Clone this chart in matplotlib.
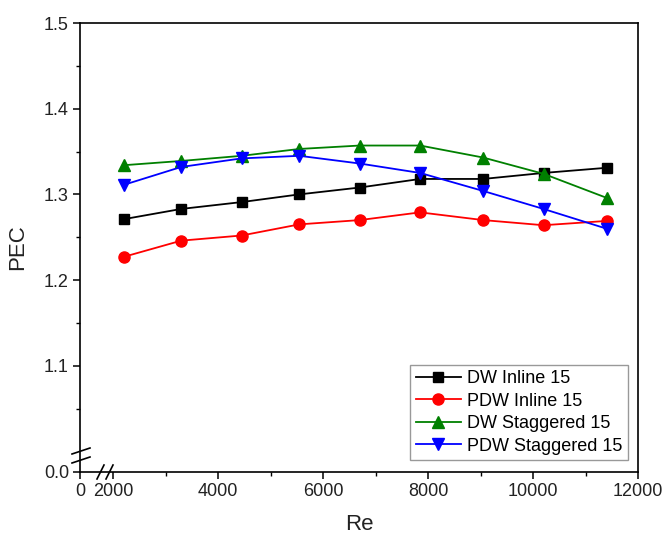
import numpy as np
import matplotlib
matplotlib.use("Agg")
import matplotlib.pyplot as plt

plt.rcParams['font.family'] = ['Liberation Sans', 'DejaVu Sans']

re = [2200, 3300, 4450, 5550, 6700, 7850, 9050, 10200, 11400]
dw_inline = [1.271, 1.283, 1.291, 1.300, 1.308, 1.318, 1.318, 1.325, 1.331]
pdw_inline = [1.227, 1.246, 1.252, 1.265, 1.270, 1.279, 1.270, 1.264, 1.269]
dw_stag = [1.334, 1.339, 1.345, 1.353, 1.357, 1.357, 1.343, 1.324, 1.296]
pdw_stag = [1.311, 1.332, 1.342, 1.345, 1.336, 1.325, 1.304, 1.283, 1.260]

series = [
    ("DW Inline 15", dw_inline, "black", "s", 7.5),
    ("PDW Inline 15", pdw_inline, "#ff0000", "o", 8),
    ("DW Staggered 15", dw_stag, "#008000", "^", 8.5),
    ("PDW Staggered 15", pdw_stag, "#0000ff", "v", 8.5),
]

yticks = [0.0, 1.1, 1.2, 1.3, 1.4, 1.5]
xticks = [0, 2000, 4000, 6000, 8000, 10000, 12000]

# broken-axis scales
YB, YK = 1.0, 0.024
def yf(y):
    y = np.asarray(y, dtype=float)
    return np.where(y >= YB, y, YB - (YB - y) * YK)
def yi(z):
    z = np.asarray(z, dtype=float)
    return np.where(z >= YB, z, YB - (YB - z) / YK)

XB, XK = 1500.0, 128.6 / 1500.0
def xf(x):
    x = np.asarray(x, dtype=float)
    return np.where(x >= XB, x, XB - (XB - x) * XK)
def xi(z):
    z = np.asarray(z, dtype=float)
    return np.where(z >= XB, z, XB - (XB - z) / XK)

fig = plt.figure(figsize=(6.64, 5.41), dpi=100)
ax = fig.add_axes([80/664, 1-472/541, (638-80)/664, (472-23)/541])
ax.set_xscale('function', functions=(xf, xi))
ax.set_yscale('function', functions=(yf, yi))

for label, vals, c, m, ms in series:
    ax.plot(re, vals, color=c, marker=m, markersize=ms, linewidth=1.3,
            label=label)

ax.set_xlim(0, 12000)
ax.set_ylim(0, 1.5)
ax.set_xticks(xticks)
ax.set_xticklabels([str(t) for t in xticks])
ax.set_xticks([3000, 5000, 7000, 9000, 11000], minor=True)
ax.set_yticks(yticks)
ax.set_yticklabels([f"{t:.1f}" for t in yticks])
ax.set_yticks([1.05, 1.15, 1.25, 1.35, 1.45], minor=True)

ax.tick_params(which='major', direction='out', length=5, width=1.1,
               labelsize=13, pad=3, labelcolor='#222222')
ax.tick_params(which='minor', direction='out', length=3, width=1.0)
for s in ax.spines.values():
    s.set_linewidth(1.2)

ax.set_xlabel("Re", fontsize=16, labelpad=10, color='#222222')
ax.set_ylabel("PEC", fontsize=16, labelpad=11, color='#222222')

# break marks
W, H = 558.0, 449.0
def seg(px0, py0, px1, py1):
    ax.plot([(px0-80)/W, (px1-80)/W], [(472-py0)/H, (472-py1)/H],
            transform=ax.transAxes, color='black', lw=1.2, clip_on=False)
seg(72, 454, 90, 448)
seg(72, 463, 90, 457)
seg(97, 479, 104, 465)
seg(106, 479, 113, 465)

leg = ax.legend(loc='lower right', bbox_to_anchor=(628/664, 1-460/541),
                bbox_transform=fig.transFigure, fontsize=13, frameon=True,
                fancybox=False, edgecolor='#999999', framealpha=1,
                handlelength=2.5, handletextpad=0.35, labelspacing=0.3,
                borderpad=0.3, borderaxespad=0)
leg.get_frame().set_linewidth(1.0)

fig.savefig("out.png", dpi=100)
